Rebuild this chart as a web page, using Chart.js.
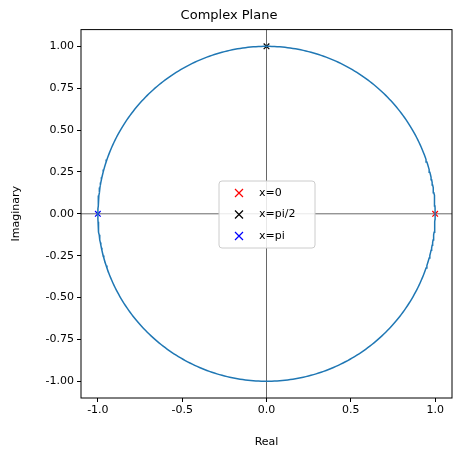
<!DOCTYPE html>
<html><head><script src="https://cdn.jsdelivr.net/npm/chart.js"></script>
<style>body{margin:0;background:#fff}#w{width:461px;height:453px}</style></head>
<body><div id="w"><canvas id="c"></canvas></div>
<script>
const angleSteps = 400;
const angles = Array.from({length: angleSteps + 1}, (_, i) => 2 * Math.PI * i / angleSteps);
const circle = angles.map(t => ({x: Math.cos(t), y: Math.sin(t)}));
const markerLabels = ['x=0', 'x=pi/2', 'x=pi'];
const markerX = [1, 0, -1];
const markerY = [0, 1, 0];
const markerColors = ['red', 'black', 'blue'];
const xTicks = [-1.0, -0.5, 0.0, 0.5, 1.0];
const yTicks = [-1.0, -0.75, -0.5, -0.25, 0, 0.25, 0.5, 0.75, 1.0];

const font = {family: 'DejaVu Sans', size: 11};
const datasets = [{data: circle, showLine: true, borderColor: '#1f77b4', borderWidth: 1.5, pointRadius: 0, fill: false}];
markerLabels.forEach((l, i) => datasets.push({label: l, data: [{x: markerX[i], y: markerY[i]}], pointStyle: 'crossRot', pointRadius: 4, borderColor: markerColors[i], borderWidth: 1.2, showLine: false}));

const extra = {id: 'extra',
  beforeDatasetsDraw(ch) {
    const {ctx, chartArea: a, scales: {x, y}} = ch;
    ctx.save(); ctx.strokeStyle = '#000'; ctx.lineWidth = 0.6;
    ctx.beginPath(); ctx.moveTo(x.getPixelForValue(0), a.top); ctx.lineTo(x.getPixelForValue(0), a.bottom);
    ctx.moveTo(a.left, y.getPixelForValue(0)); ctx.lineTo(a.right, y.getPixelForValue(0)); ctx.stroke();
    ctx.restore();
  },
  afterDatasetsDraw(ch) {
    const {ctx, chartArea: a} = ch;
    ctx.save(); ctx.strokeStyle = '#000'; ctx.lineWidth = 1;
    ctx.strokeRect(a.left, a.top, a.right - a.left, a.bottom - a.top);
    const bx = 219, by = 181, bw = 96, bh = 67;
    ctx.fillStyle = 'rgba(255,255,255,0.85)'; ctx.strokeStyle = '#ccc';
    ctx.beginPath(); ctx.roundRect(bx, by, bw, bh, 3); ctx.fill(); ctx.stroke();
    ctx.font = '11px DejaVu Sans'; ctx.textBaseline = 'middle';
    markerLabels.forEach((l, i) => {
      const yy = by + 12 + i * 21.5, xx = bx + 20;
      ctx.strokeStyle = markerColors[i]; ctx.lineWidth = 1.2;
      ctx.beginPath(); ctx.moveTo(xx - 4, yy - 4); ctx.lineTo(xx + 4, yy + 4); ctx.moveTo(xx - 4, yy + 4); ctx.lineTo(xx + 4, yy - 4); ctx.stroke();
      ctx.fillStyle = '#000'; ctx.fillText(l, bx + 40, yy);
    });
    ctx.restore();
  }};

const grid = {display: true, drawOnChartArea: false, drawTicks: true, tickLength: 4, color: '#000'};
new Chart(document.getElementById('c'), {
  type: 'scatter', data: {datasets},
  options: {responsive: true, maintainAspectRatio: false, animation: false,
    layout: {padding: {top: 0, right: 9, left: 6, bottom: 0}},
    plugins: {legend: {display: false}, tooltip: {enabled: false},
      title: {display: true, text: 'Complex Plane', color: '#000', font: {family: 'DejaVu Sans', size: 13, weight: 'normal'}, padding: {top: 8, bottom: 6}}},
    scales: {
      x: {type: 'linear', min: -1.1, max: 1.1, afterFit(s) { s.height = 55; },
        afterBuildTicks(s) { s.ticks = xTicks.map(v => ({value: v})); },
        ticks: {color: '#000', font, callback: v => v.toFixed(1), maxRotation: 0, padding: 2},
        grid, border: {display: false},
        title: {display: true, text: 'Real', color: '#000', font, padding: {top: 2}}},
      y: {type: 'linear', min: -1.1, max: 1.1, afterFit(s) { s.width = 75; },
        afterBuildTicks(s) { s.ticks = yTicks.map(v => ({value: v})); },
        ticks: {color: '#000', font, callback: v => v.toFixed(2), padding: 3},
        grid, border: {display: false},
        title: {display: true, text: 'Imaginary', color: '#000', font, padding: {bottom: 2}}}
    }}, plugins: [extra]});
</script></body></html>
